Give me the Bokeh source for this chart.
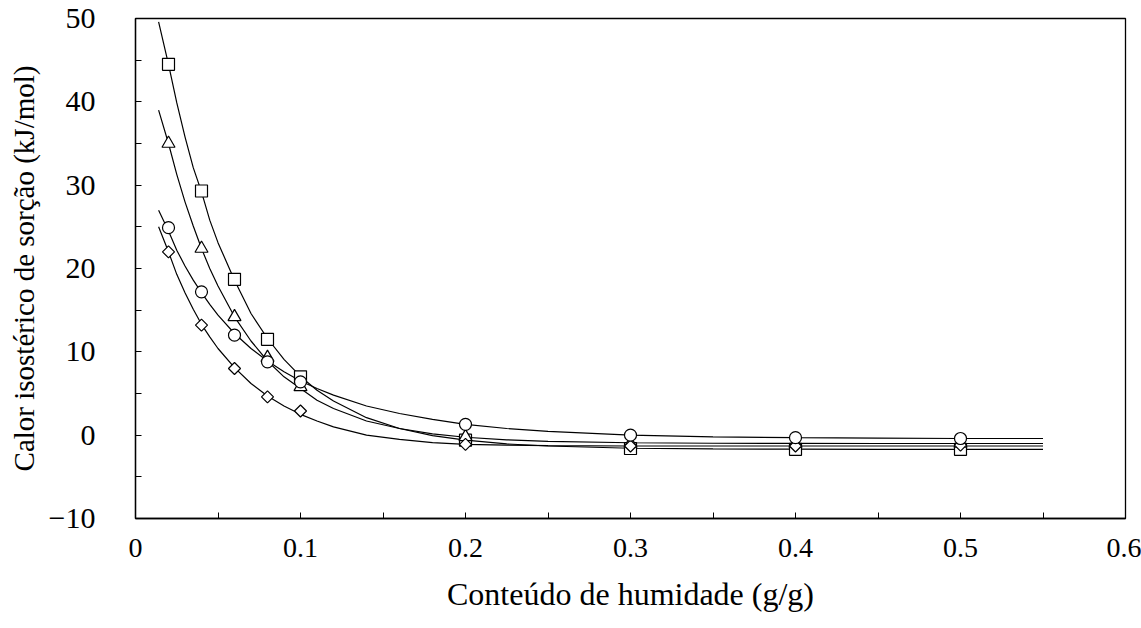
import numpy as np
from bokeh.plotting import figure
from bokeh.models import Range1d, FixedTicker
from bokeh.embed import file_html
from bokeh.resources import INLINE

# ---- data ----
x_points = [0.02, 0.04, 0.06, 0.08, 0.10, 0.20, 0.30, 0.40, 0.50]
q_square = [44.5, 29.3, 18.7, 11.5, 7.0, -0.6, -1.6, -1.7, -1.7]
q_triangle = [35.0, 22.4, 14.2, 9.3, 5.8, -0.2, -1.0, -1.0, -1.0]
q_circle = [24.9, 17.2, 12.0, 8.8, 6.4, 1.3, 0.0, -0.3, -0.4]
q_diamond = [22.0, 13.2, 8.0, 4.6, 2.9, -1.1, -1.3, -1.3, -1.2]

curve_x = [0.014, 0.02, 0.025, 0.03, 0.035, 0.04, 0.045, 0.05, 0.06, 0.07, 0.08,
           0.09, 0.10, 0.11, 0.12, 0.14, 0.16, 0.18, 0.20, 0.225, 0.25, 0.30,
           0.35, 0.40, 0.45, 0.50, 0.55]
fit_square = [49.6, 44.5, 39.9, 35.8, 32.1, 29.2, 25.8, 23.1, 18.6, 14.6, 11.6,
              9.1, 7.05, 5.4, 4.1, 2.1, 0.8, -0.05, -0.6, -1.05, -1.3, -1.57,
              -1.65, -1.68, -1.7, -1.7, -1.7]
fit_triangle = [39.0, 35.0, 31.3, 28.0, 25.1, 22.4, 20.0, 17.9, 14.2, 11.3, 8.9,
                7.0, 5.6, 4.2, 3.2, 1.7, 0.8, 0.15, -0.25, -0.56, -0.74, -0.91,
                -0.97, -0.99, -1.0, -1.0, -1.0]
fit_circle = [27.0, 24.5, 22.2, 20.3, 18.6, 17.1, 15.7, 14.4, 12.2, 10.4, 8.9,
              7.6, 6.5, 5.6, 4.8, 3.5, 2.6, 1.9, 1.3, 0.8, 0.45, 0.0,
              -0.2, -0.3, -0.35, -0.4, -0.4]
fit_diamond = [25.0, 22.0, 19.3, 17.1, 15.1, 13.3, 11.8, 10.4, 8.1, 6.2, 4.7,
               3.5, 2.5, 1.7, 1.0, 0.0, -0.5, -0.9, -1.1, -1.2, -1.25, -1.3,
               -1.3, -1.3, -1.3, -1.3, -1.3]

x_ticks = [0.0, 0.1, 0.2, 0.3, 0.4, 0.5, 0.6]
x_tick_labels = ["0", "0.1", "0.2", "0.3", "0.4", "0.5", "0.6"]
x_minor = [0.05, 0.15, 0.25, 0.35, 0.45, 0.55]
y_ticks = [-10, 0, 10, 20, 30, 40, 50]
y_minor = [-5, 5, 15, 25, 35, 45]

x_title = "Conteúdo de humidade (g/g)"
y_title = "Calor isostérico de sorção (kJ/mol)"

FONT = "Liberation Serif"

p = figure(width=1141, height=628, output_backend="svg", toolbar_location=None,
           x_range=Range1d(0, 0.6), y_range=Range1d(-10, 50),
           min_border_left=135, min_border_right=16, min_border_top=18,
           min_border_bottom=110)
p.background_fill_color = "white"
p.border_fill_color = "white"
p.grid.visible = False
p.outline_line_color = "black"
p.outline_line_width = 1.3

# curves
for ys in (fit_square, fit_triangle, fit_circle, fit_diamond):
    p.line(curve_x, ys, line_color="black", line_width=1.2)

# markers
mk = dict(fill_color="white", line_color="black", line_width=1.2)
p.scatter(x_points, q_square, marker="square", size=12, **mk)
p.scatter(x_points, q_triangle, marker="triangle", size=13, **mk)
p.scatter(x_points, q_diamond, marker="square", angle=np.pi / 4, size=8.5, **mk)
p.scatter(x_points, q_circle, marker="circle", size=12, **mk)

# axes
xa = p.xaxis[0]
ya = p.yaxis[0]
xa.ticker = FixedTicker(ticks=x_ticks, minor_ticks=x_minor)
ya.ticker = FixedTicker(ticks=y_ticks, minor_ticks=y_minor)
xa.major_label_overrides = {t: lab for t, lab in zip(x_ticks, x_tick_labels)}

for ax in (xa, ya):
    ax.axis_line_color = "black"
    ax.axis_line_width = 1.3
    ax.major_tick_in = 6
    ax.major_tick_out = 0
    ax.minor_tick_in = 6
    ax.minor_tick_out = 0
    ax.major_tick_line_color = "black"
    ax.minor_tick_line_color = "black"
    ax.major_label_text_font = FONT
    ax.major_label_text_color = "black"
    ax.axis_label_text_font = FONT
    ax.axis_label_text_font_style = "normal"
    ax.axis_label_text_color = "black"

xa.major_label_text_font_size = "28px"
xa.major_label_standoff = 20
xa.axis_label = x_title
xa.axis_label_text_font_size = "32px"
xa.axis_label_standoff = 16

ya.major_label_text_font_size = "30px"
ya.major_label_standoff = 40
ya.axis_label = y_title
ya.axis_label_text_font_size = "29px"
ya.axis_label_standoff = 6

open("out.html", "w").write(file_html(p, INLINE))
